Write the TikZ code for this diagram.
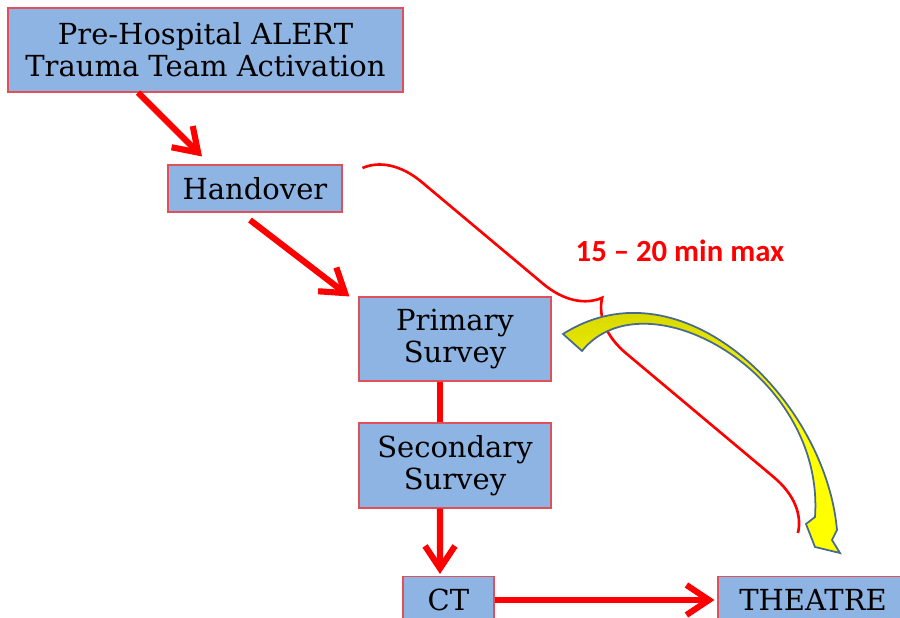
\documentclass[tikz,border=0pt]{standalone}
\usepackage{fontspec}
\setmainfont{DejaVu Serif}
\newfontfamily\labelfont{Carlito}
\usetikzlibrary{arrows.meta, decorations.pathreplacing}
\definecolor{boxblue}{HTML}{8EB4E3}
\definecolor{boxedge}{HTML}{E0505A}
\definecolor{arrowred}{HTML}{FF0000}
\definecolor{olivetail}{HTML}{C2C200}
\definecolor{headyellow}{HTML}{FFFF00}
\definecolor{arrowedge}{HTML}{4A6A8C}

\begin{document}
\begin{tikzpicture}[
    box/.style={draw=boxedge, fill=boxblue, line width=0.6pt, align=center,
      font=\fontsize{16.5}{18}\selectfont, inner sep=0pt},
    flow/.style={draw=arrowred, line width=3.5pt,
      -{Straight Barb[length=0.45cm, width=0.6cm]}}
  ]
  \useasboundingbox (0,0) rectangle (18,12.36);
  % Boxes
  \node[box, minimum width=7.9cm, minimum height=1.68cm] (alert) at (4.11,11.36) {Pre-Hospital ALERT\\Trauma Team Activation};
  \node[box, minimum width=3.48cm, minimum height=0.94cm] (handover) at (5.10,8.59) {Handover};
  \node[box, minimum width=3.84cm, minimum height=1.68cm] (primary) at (9.10,5.58) {Primary\\Survey};
  \node[box, minimum width=3.84cm, minimum height=1.70cm] (secondary) at (9.10,3.05) {Secondary\\Survey};
  \node[box, minimum width=1.82cm, minimum height=0.94cm] (ct) at (8.97,0.36) {CT};
  \node[box, minimum width=3.80cm, minimum height=0.94cm] (theatre) at (16.26,0.36) {THEATRE};
  % Pathway
  \draw[flow] ([xshift=-1.35cm]alert.south) -- ([xshift=-1.06cm,yshift=0.16cm]handover.north);
  \draw[flow] ([xshift=-0.1cm,yshift=-0.15cm]handover.south) -- ([xshift=-0.18cm]primary.north west);
  \draw[arrowred, line width=3.5pt] ([xshift=-0.3cm]primary.south) -- ([xshift=-0.3cm]secondary.north);
  \draw[flow] ([xshift=-0.3cm]secondary.south) -- ([xshift=-0.17cm,yshift=0.04cm]ct.north);
  \draw[flow] (ct.east) -- ([xshift=-0.06cm]theatre.west);
  % Time limit brace
  \coordinate (bracefoot) at (15.96,1.70);
  \draw[arrowred, line width=1.5pt, decorate, decoration={brace, amplitude=1.09cm, aspect=0.47}]
    ([xshift=0.4cm,yshift=0.41cm]handover.east) -- (bracefoot);
  \node[text=arrowred, font=\labelfont\bfseries\fontsize{17.5}{20}\selectfont] (limit) at (13.6,7.34) {15 \textendash{} 20 min max};
  % Curved arrow
  \draw[draw=arrowedge, line width=1pt, top color=olivetail, bottom color=headyellow, middle color=headyellow]
    (11.26,5.68) .. controls (13.64,7.19) and (16.51,4.36) .. (16.74,1.76)
    -- (16.64,1.56) -- (16.80,1.30) -- (16.30,1.42) -- (16.12,1.88) -- (16.30,2.02)
    .. controls (16.5,4.9) and (12.9,6.9) .. (11.64,5.34) -- cycle;
\end{tikzpicture}
\end{document}
